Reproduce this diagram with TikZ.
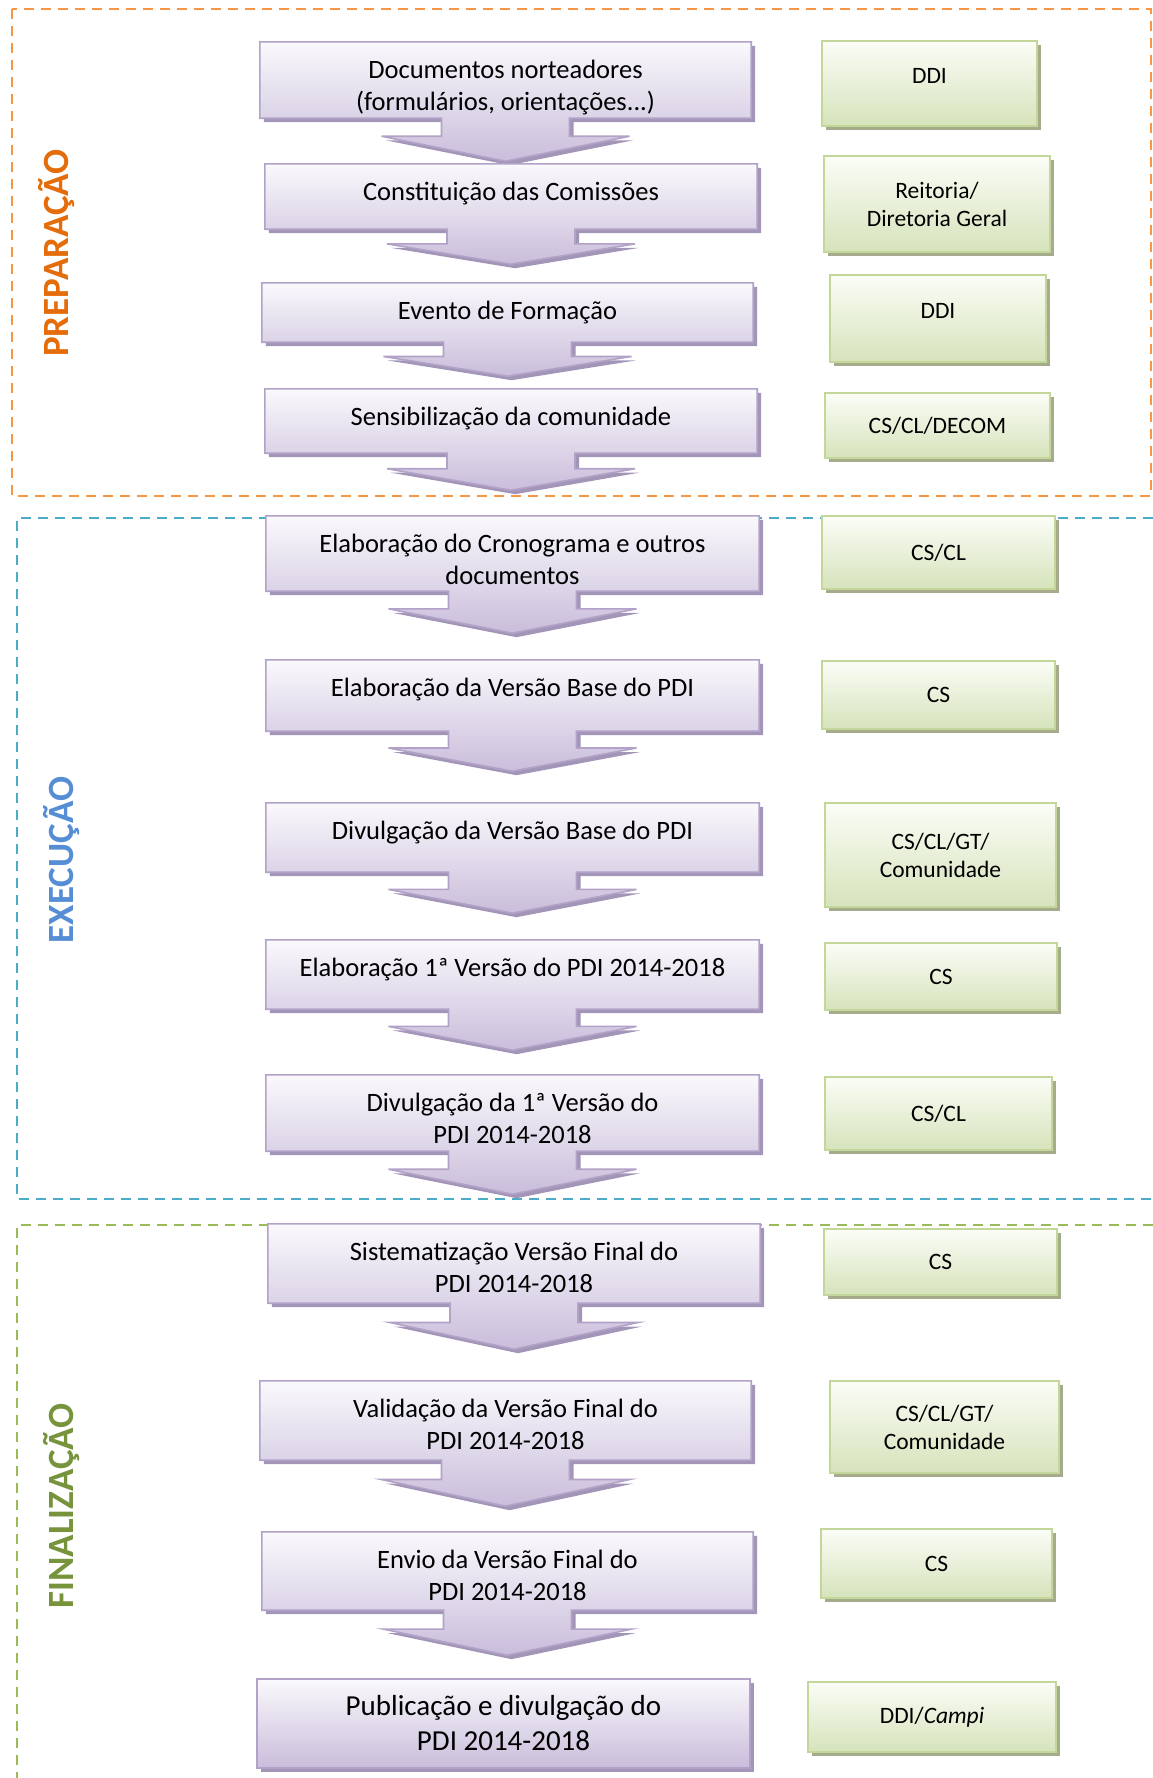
\documentclass[tikz,border=0pt]{standalone}
\usepackage{fontspec}
\setmainfont{Carlito}
\definecolor{prepframe}{HTML}{F79646}
\definecolor{preptxt}{HTML}{E46C0A}
\definecolor{execframe}{HTML}{4BACC6}
\definecolor{exectxt}{HTML}{558ED5}
\definecolor{finframe}{HTML}{9BBB59}
\definecolor{fintxt}{HTML}{77933C}
\definecolor{roxoborda}{HTML}{B3A2C7}
\definecolor{roxotopo}{HTML}{FAF9FC}
\definecolor{roxobase}{HTML}{C9BDDB}
\definecolor{roxosombra}{HTML}{A295B8}
\definecolor{verdeborda}{HTML}{C4D79B}
\definecolor{verdetopo}{HTML}{FBFDF7}
\definecolor{verdebase}{HTML}{D6E3BB}
\definecolor{verdesombra}{HTML}{A6AB8C}
\usetikzlibrary{calc,backgrounds,shadows}

% caixa roxa: altura, largura, texto (alinhado em cima)
\newcommand{\caixa}[3]{\parbox[c][#1pt][t]{#2pt}{\centering\rule{0pt}{36pt}#3}}
% contorno da caixa com a seta para baixo
\newcommand{\contorno}[2]{(#1.north west) -- (#1.north east) -- (#1.south east)
  -- ($(#1.south)+(64,0)$) -- ($(#1.south)+(64,{0.42*#2})$)
  -- ($(#1.south)+(124,{0.42*#2})$) -- ($(#1.south)+(0,#2)$)
  -- ($(#1.south)+(-124,{0.42*#2})$) -- ($(#1.south)+(-64,{0.42*#2})$)
  -- ($(#1.south)+(-64,0)$) -- (#1.south west) -- cycle}
\newcommand{\seta}[2]{%
  \fill[roxosombra, transform canvas={xshift=4pt,yshift=-4pt}] \contorno{#1}{#2};
  \draw[etapafundo] \contorno{#1}{#2};}

\tikzset{
  etapa/.style={inner sep=0pt, font=\fontsize{26.5}{32}\selectfont},
  etapafundo/.style={draw=roxoborda, line width=1.6pt, top color=roxotopo, bottom color=roxobase},
  resp/.style={draw=verdeborda, line width=2pt, top color=verdetopo, bottom color=verdebase,
    drop shadow={shadow xshift=4pt, shadow yshift=-4pt, fill=verdesombra, opacity=1},
    align=center, inner sep=0pt, font=\fontsize{23.5}{28}\selectfont},
  fase/.style={rotate=90, font=\bfseries\fontsize{37}{44}\selectfont},
  moldura/.style={dash pattern=on 10pt off 7pt, line width=2.4pt}
}

\begin{document}
\begin{tikzpicture}[x=1pt, y=-1pt]
\useasboundingbox (0,0) rectangle (1153,1778);

% etapas
\node[etapa] (e1) at (505.5,80) {\caixa{76}{491}{Documentos norteadores\\(formulários, orientações...)}};
\node[etapa] (e2) at (511,196.5) {\caixa{65}{492}{Constituição das Comissões}};
\node[etapa] (e3) at (507.5,312.5) {\caixa{59}{491}{Evento de Formação}};
\node[etapa] (e4) at (511,421) {\caixa{64}{492}{Sensibilização da comunidade}};
\node[etapa] (e5) at (512.5,553.5) {\caixa{75}{493}{Elaboração do Cronograma e outros\\documentos}};
\node[etapa] (e6) at (512.5,695.5) {\caixa{71}{493}{Elaboração da Versão Base do PDI}};
\node[etapa] (e7) at (512.5,837.5) {\caixa{69}{493}{Divulgação da Versão Base do PDI}};
\node[etapa] (e8) at (512.5,974.5) {\caixa{69}{493}{Elaboração 1ª Versão do PDI 2014-2018}};
\node[etapa] (e9) at (512.5,1113) {\caixa{76}{493}{Divulgação da 1ª Versão do\\PDI 2014-2018}};
\node[etapa] (e10) at (514,1263.5) {\caixa{79}{492}{Sistematização Versão Final do\\PDI 2014-2018}};
\node[etapa] (e11) at (505.5,1420.5) {\caixa{79}{491}{Validação da Versão Final do\\PDI 2014-2018}};
\node[etapa] (e12) at (507.5,1571) {\caixa{78}{491}{Envio da Versão Final do\\PDI 2014-2018}};
\node[etapa] (e13) at (503.5,1723.5) {\parbox[c][89pt][c]{493pt}{\centering\fontsize{29}{35}\selectfont Publicação e divulgação do\\PDI 2014-2018}};

% responsaveis
\node[resp, minimum width=215, minimum height=85, text depth=16pt] (r1) at (929.5,83.5) {DDI};
\node[resp, minimum width=226, minimum height=96] (r2) at (937,204) {Reitoria/\\Diretoria Geral};
\node[resp, minimum width=216, minimum height=87, text depth=16pt] (r3) at (938,318.5) {DDI};
\node[resp, minimum width=225, minimum height=65] (r4) at (937.5,425.5) {CS/CL/DECOM};
\node[resp, minimum width=233, minimum height=73] (r5) at (938.5,552.5) {CS/CL};
\node[resp, minimum width=233, minimum height=68] (r6) at (938.5,695) {CS};
\node[resp, minimum width=231, minimum height=104] (r7) at (940.5,855) {CS/CL/GT/\\Comunidade};
\node[resp, minimum width=232, minimum height=67] (r8) at (941,976.5) {CS};
\node[resp, minimum width=227, minimum height=73] (r9) at (938.5,1113.5) {CS/CL};
\node[resp, minimum width=233, minimum height=66] (r10) at (940.5,1262) {CS};
\node[resp, minimum width=229, minimum height=92] (r11) at (944.5,1427) {CS/CL/GT/\\Comunidade};
\node[resp, minimum width=231, minimum height=69] (r12) at (936.5,1563.5) {CS};
\node[resp, minimum width=248, minimum height=70] (r13) at (932,1717) {DDI/\textit{Campi}};

% fases
\node[fase, preptxt] (lprep) at (57,253) {PREPARAÇÃO};
\node[fase, exectxt] (lexec) at (62,860) {EXECUÇÃO};
\node[fase, fintxt] (lfin) at (62,1506) {FINALIZAÇÃO};

\begin{scope}[on background layer]
\clip (0,0) rectangle (1153,1778);
\draw[moldura, prepframe] (12,9) rectangle (1151,496);
\draw[moldura, execframe] (1170,518) -- (17,518) -- (17,1199) -- (1170,1199);
\draw[moldura, finframe] (1170,1225) -- (17,1225) -- (17,1800);
\seta{e1}{43}
\seta{e2}{35}
\seta{e3}{34}
\seta{e4}{37}
\seta{e5}{42}
\seta{e6}{40}
\seta{e7}{41}
\seta{e8}{41}
\seta{e9}{43}
\seta{e10}{46}
\seta{e11}{46}
\seta{e12}{45}
\fill[roxosombra, transform canvas={xshift=4pt,yshift=-4pt}] (e13.north west) rectangle (e13.south east);
\draw[etapafundo] (e13.north west) rectangle (e13.south east);
\end{scope}
\end{tikzpicture}
\end{document}
